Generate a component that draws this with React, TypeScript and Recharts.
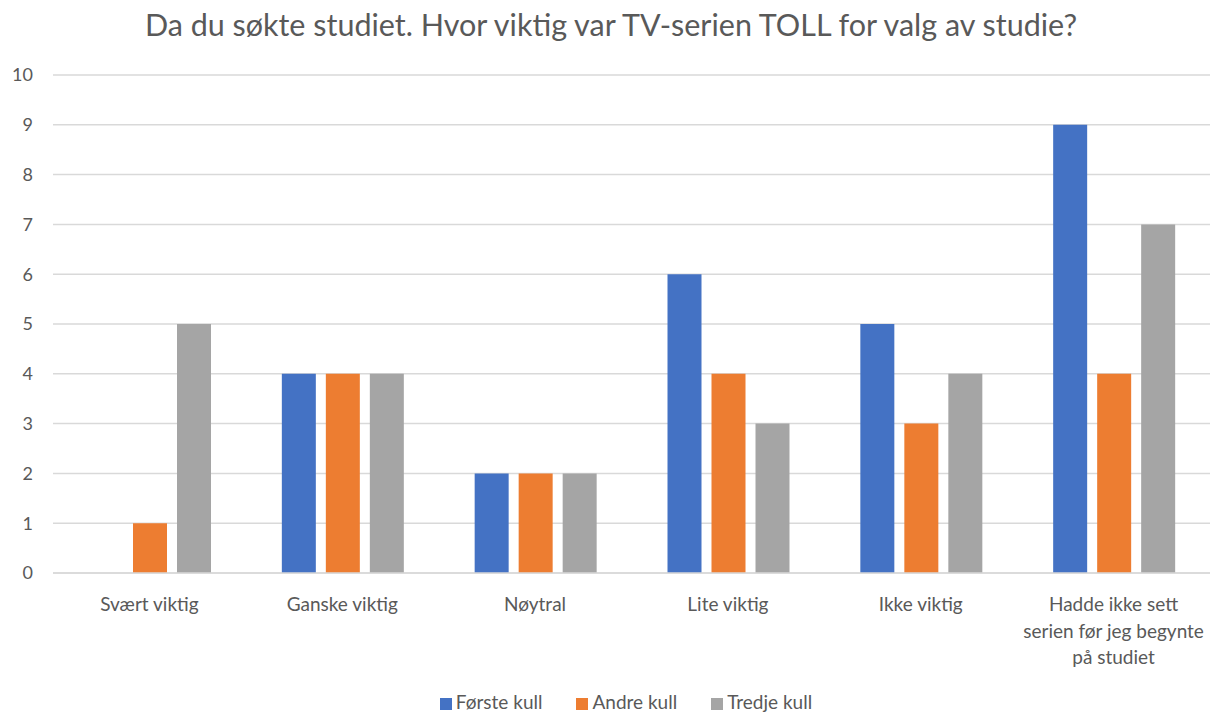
import { BarChart, Bar, XAxis, YAxis, CartesianGrid, Legend } from "recharts";

const categories = [
  "Svært viktig",
  "Ganske viktig",
  "Nøytral",
  "Lite viktig",
  "Ikke viktig",
  "Hadde ikke sett\nserien før jeg begynte\npå studiet",
];
const forsteKull = [0, 4, 2, 6, 5, 9];
const andreKull = [1, 4, 2, 4, 3, 4];
const tredjeKull = [5, 4, 2, 3, 4, 7];
const yTicks = [0, 1, 2, 3, 4, 5, 6, 7, 8, 9, 10];
const seriesOrder = ["Første kull", "Andre kull", "Tredje kull"];

const data = categories.map((name, i) => ({
  name,
  forste: forsteKull[i],
  andre: andreKull[i],
  tredje: tredjeKull[i],
}));

const FONT = "Lato, 'Open Sans', sans-serif";
const TEXT = "#595959";

function CategoryTick(props: any) {
  const { x, y, payload } = props;
  const lines = String(payload.value).split("\n");
  return (
    <text x={x} y={y + 30} textAnchor="middle" fill={TEXT} fontSize={19} fontFamily={FONT}>
      {lines.map((l, i) => (
        <tspan key={i} x={x} dy={i === 0 ? 0 : 26.5}>
          {l}
        </tspan>
      ))}
    </text>
  );
}

export default function App() {
  return (
    <div style={{ position: "fixed", left: 0, top: 0, width: 1222, height: 713, background: "#fff" }}>
      <div
        style={{
          position: "absolute",
          top: 6,
          left: 0,
          width: 1222,
          textAlign: "center",
          fontFamily: FONT,
          fontSize: 30.5,
          color: TEXT,
        }}
      >
        Da du søkte studiet. Hvor viktig var TV-serien TOLL for valg av studie?
      </div>
      <BarChart
        width={1222}
        height={713}
        data={data}
        margin={{ top: 75, right: 12, left: 8, bottom: 17 }}
        barCategoryGap={36}
        barGap={10}
      >
        <CartesianGrid vertical={false} stroke="#d9d9d9" strokeWidth={1.5} />
        <XAxis
          dataKey="name"
          height={100}
          interval={0}
          tickLine={false}
          axisLine={{ stroke: "#d9d9d9", strokeWidth: 1.5 }}
          tick={<CategoryTick />}
        />
        <YAxis
          width={45}
          domain={[0, 10]}
          ticks={yTicks}
          axisLine={false}
          tickLine={false}
          tickSize={0}
          tickMargin={20}
          tick={{ fill: TEXT, fontSize: 18, fontFamily: FONT }}
        />
        <Legend
          verticalAlign="bottom"
          align="center"
          iconType="square"
          iconSize={12}
          itemSorter={(item: any) => seriesOrder.indexOf(item.value)}
          wrapperStyle={{ fontFamily: FONT, fontSize: 19, bottom: 0, paddingLeft: 34 }}
          formatter={(v: string) => <span style={{ color: TEXT, marginRight: 24 }}>{v}</span>}
        />
        <Bar dataKey="forste" name="Første kull" fill="#4472C4" isAnimationActive={false} />
        <Bar dataKey="andre" name="Andre kull" fill="#ED7D31" isAnimationActive={false} />
        <Bar dataKey="tredje" name="Tredje kull" fill="#A5A5A5" isAnimationActive={false} />
      </BarChart>
    </div>
  );
}
